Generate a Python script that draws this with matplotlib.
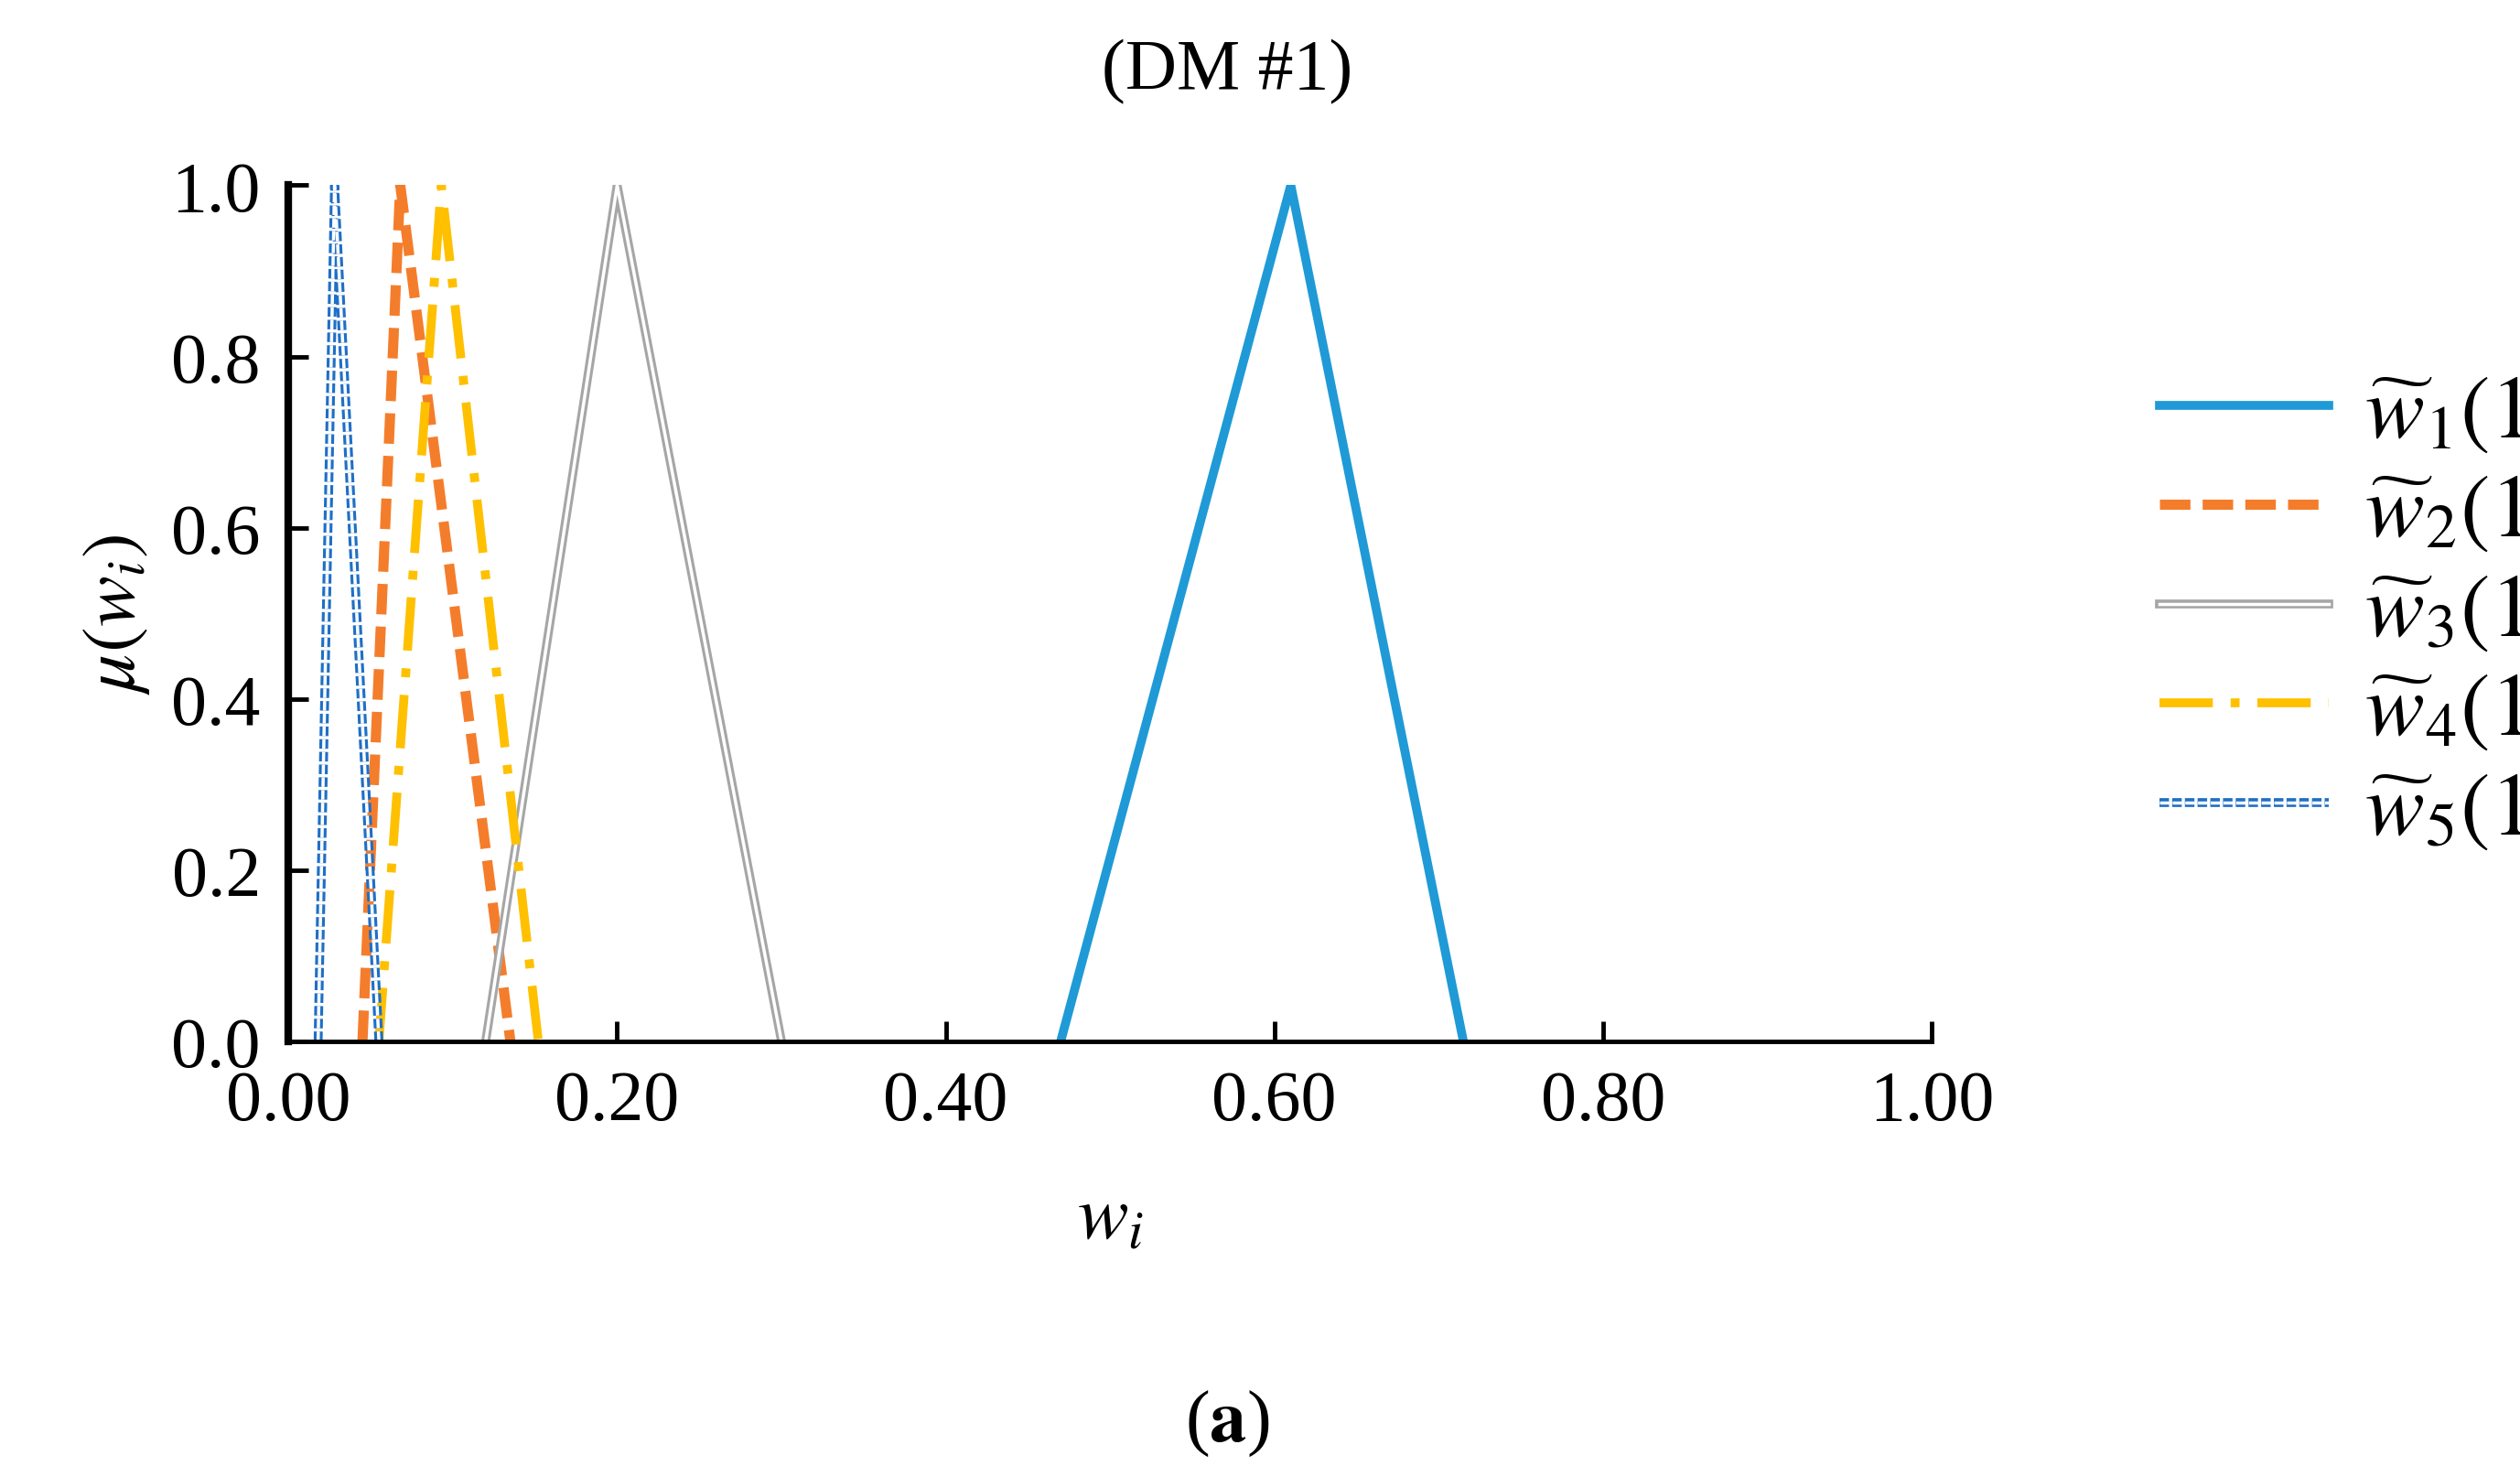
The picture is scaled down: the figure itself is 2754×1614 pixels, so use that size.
import matplotlib.pyplot as plt
import matplotlib.patheffects as pe

plt.rcParams['font.family'] = ['Liberation Serif', 'DejaVu Serif']
plt.rcParams['mathtext.fontset'] = 'stix'

# triangular fuzzy weights (l, m, u)
names = [r'$\widetilde{w}_1(1)$', r'$\widetilde{w}_2(1)$', r'$\widetilde{w}_3(1)$',
         r'$\widetilde{w}_4(1)$', r'$\widetilde{w}_5(1)$']
lower = [0.470, 0.045, 0.120, 0.055, 0.018]
middle = [0.610, 0.068, 0.200, 0.093, 0.028]
upper = [0.715, 0.135, 0.300, 0.152, 0.055]
mu = [0, 1, 0]

fig = plt.figure(figsize=(27.54, 16.15), dpi=100)
ax = fig.add_axes([0.1145, 0.295, 0.652, 0.579])

blue, orange, gray, yellow, dblue = '#1f9ad6', '#f47d2c', '#a6a6a6', '#ffc000', '#1f6fc6'
styles = [
    dict(color=blue, lw=7, ls='-'),
    dict(color=orange, lw=8, ls=(0, (3, 1.2))),
    dict(color='white', lw=2.5, ls='-',
         path_effects=[pe.Stroke(linewidth=7, foreground=gray), pe.Normal()]),
    dict(color=yellow, lw=7, ls=(0, (6, 2, 1, 2))),
    dict(color='white', lw=2.5, ls=(0, (3, 1)),
         path_effects=[pe.Stroke(linewidth=7, foreground=dblue), pe.Normal()]),
]
for i in range(len(names)):
    ax.plot([lower[i], middle[i], upper[i]], mu, label=names[i], **styles[i])

ax.set_xlim(0, 1)
ax.set_ylim(0, 1)
ax.set_xticks([0, 0.2, 0.4, 0.6, 0.8, 1.0])
ax.set_xticklabels(['0.00', '0.20', '0.40', '0.60', '0.80', '1.00'])
ax.set_yticks([0, 0.2, 0.4, 0.6, 0.8, 1.0])
ax.set_yticklabels(['0.0', '0.2', '0.4', '0.6', '0.8', '1.0'])
ax.tick_params(direction='in', labelsize=56, length=16, width=3.5, pad=22)
for s in ['top', 'right']:
    ax.spines[s].set_visible(False)
ax.spines['left'].set_linewidth(6)
ax.spines['bottom'].set_linewidth(3.5)

ax.set_xlabel(r'$w_i$', fontsize=60, labelpad=40)
ax.set_ylabel(r'$\mu(w_i)$', fontsize=60, labelpad=15)

ax.legend(loc='center left', bbox_to_anchor=(1.09, 0.5), frameon=False,
          fontsize=70, handlelength=1.9, labelspacing=0.2, handletextpad=0.4)

fig.text(0.487, 0.94, '(DM #1)', fontsize=56, ha='center')
fig.text(0.487, 0.025, r'($\mathbf{a}$)', fontsize=58, ha='center')
fig.savefig('out.png', dpi=100)
